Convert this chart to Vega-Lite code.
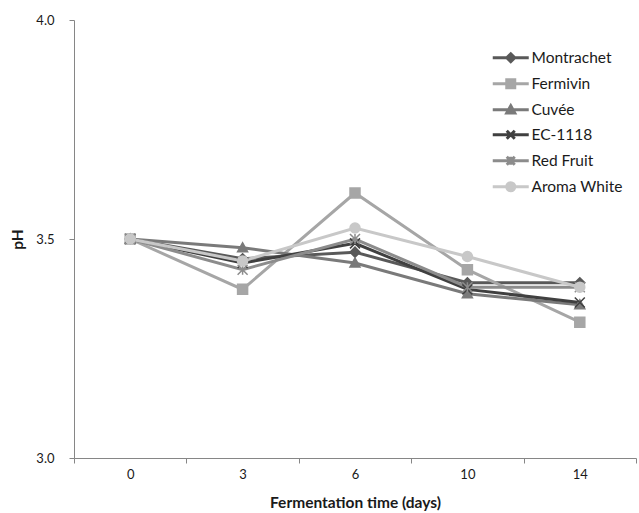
{
  "$schema": "https://vega.github.io/schema/vega-lite/v6.json",
  "width": 562,
  "height": 438,
  "autosize": {"type": "none"},
  "padding": {"left": 74, "top": 20, "right": 3, "bottom": 55},
  "background": "white",
  "config": {
    "view": {"stroke": null},
    "font": "Lato",
    "axis": {"grid": false, "domainColor": "#868686", "tickColor": "#868686", "labelColor": "#1a1a1a", "titleColor": "#1a1a1a", "labelFont": "Lato", "titleFont": "Lato", "labelFontSize": 13, "titleFontSize": 15.5, "titleFontWeight": "bold", "tickSize": 5, "domainWidth": 1}
  },
  "data": {
    "values": [
      {"series": "Montrachet", "day": 0, "pH": 3.50},
      {"series": "Montrachet", "day": 3, "pH": 3.455},
      {"series": "Montrachet", "day": 6, "pH": 3.47},
      {"series": "Montrachet", "day": 10, "pH": 3.40},
      {"series": "Montrachet", "day": 14, "pH": 3.40},
      {"series": "Fermivin", "day": 0, "pH": 3.50},
      {"series": "Fermivin", "day": 3, "pH": 3.385},
      {"series": "Fermivin", "day": 6, "pH": 3.605},
      {"series": "Fermivin", "day": 10, "pH": 3.43},
      {"series": "Fermivin", "day": 14, "pH": 3.31},
      {"series": "Cuvée", "day": 0, "pH": 3.50},
      {"series": "Cuvée", "day": 3, "pH": 3.48},
      {"series": "Cuvée", "day": 6, "pH": 3.445},
      {"series": "Cuvée", "day": 10, "pH": 3.375},
      {"series": "Cuvée", "day": 14, "pH": 3.35},
      {"series": "EC-1118", "day": 0, "pH": 3.50},
      {"series": "EC-1118", "day": 3, "pH": 3.445},
      {"series": "EC-1118", "day": 6, "pH": 3.49},
      {"series": "EC-1118", "day": 10, "pH": 3.385},
      {"series": "EC-1118", "day": 14, "pH": 3.355},
      {"series": "Red Fruit", "day": 0, "pH": 3.50},
      {"series": "Red Fruit", "day": 3, "pH": 3.43},
      {"series": "Red Fruit", "day": 6, "pH": 3.50},
      {"series": "Red Fruit", "day": 10, "pH": 3.39},
      {"series": "Red Fruit", "day": 14, "pH": 3.39},
      {"series": "Aroma White", "day": 0, "pH": 3.50},
      {"series": "Aroma White", "day": 3, "pH": 3.45},
      {"series": "Aroma White", "day": 6, "pH": 3.525},
      {"series": "Aroma White", "day": 10, "pH": 3.46},
      {"series": "Aroma White", "day": 14, "pH": 3.39}
    ]
  },
  "encoding": {
    "x": {
      "field": "day", "type": "ordinal", "bandPosition": 0.5,
      "scale": {"type": "band", "paddingInner": 0, "paddingOuter": 0},
      "axis": {"title": "Fermentation time (days)", "labelAngle": 0, "tickBand": "extent", "labelPadding": 5, "titlePadding": 14}
    },
    "y": {
      "field": "pH", "type": "quantitative",
      "scale": {"domain": [3, 4], "nice": false, "zero": false},
      "axis": {"title": "pH", "values": [3, 3.5, 4], "format": ".1f", "labelPadding": 15, "titlePadding": 10}
    }
  },
  "layer": [
    {
      "mark": {"type": "line", "strokeWidth": 3},
      "encoding": {
        "color": {"field": "series", "type": "nominal", "legend": null,
          "scale": {"domain": ["Montrachet", "Fermivin", "Cuvée", "EC-1118", "Red Fruit", "Aroma White"], "range": ["#595959", "#a6a6a6", "#7a7a7a", "#404040", "#8c8c8c", "#c8c8c8"]}}
      }
    },
    {
      "mark": {"type": "point", "filled": true, "size": 100, "strokeWidth": 1.5, "opacity": 1},
      "encoding": {
        "color": {"field": "series", "type": "nominal", "legend": null},
        "shape": {"field": "series", "type": "nominal", "legend": null,
          "scale": {"domain": ["Montrachet", "Fermivin", "Cuvée", "EC-1118", "Red Fruit", "Aroma White"],
            "range": ["M0,-1L1,0L0,1L-1,0Z", "M-1,-1H1V1H-1Z", "M0,-1L1,0.8H-1Z", "M-1,-1L1,1M-1,1L1,-1", "M-1,-1L1,1M-1,1L1,-1M0,-1V1", "M1,0A1,1,0,1,1,-1,0A1,1,0,1,1,1,0Z"]}},
        "stroke": {"field": "series", "type": "nominal", "legend": null,
          "scale": {"domain": ["Montrachet", "Fermivin", "Cuvée", "EC-1118", "Red Fruit", "Aroma White"], "range": ["#595959", "#a6a6a6", "#7a7a7a", "#404040", "#8c8c8c", "#c8c8c8"]}}
      }
    },
    {
      "mark": {"type": "point", "filled": true, "size": 0, "strokeWidth": 3, "opacity": 1},
      "encoding": {
        "shape": {"field": "series", "type": "nominal",
          "scale": {"domain": ["Montrachet", "Fermivin", "Cuvée", "EC-1118", "Red Fruit", "Aroma White"],
            "range": ["M-4.5,0H4.5M0,-1L1,0L0,1L-1,0Z", "M-4.5,0H4.5M-1,-1H1V1H-1Z", "M-4.5,0H4.5M0,-1L1,0.8H-1Z", "M-4.5,0H4.5M-1,-1L1,1M-1,1L1,-1", "M-4.5,0H4.5M-1,-1L1,1M-1,1L1,-1M0,-1V1", "M-4.5,0H4.5M1,0A1,1,0,1,1,-1,0A1,1,0,1,1,1,0Z"]},
          "legend": {
            "title": null, "orient": "none", "legendX": 429, "legendY": 30, "padding": 0,
            "symbolSize": 64, "symbolStrokeWidth": 3, "labelOffset": 13, "rowPadding": 5,
            "labelFont": "Lato", "labelFontSize": 15.5, "labelColor": "#1a1a1a"
          }
        },
        "fill": {"field": "series", "type": "nominal",
          "scale": {"domain": ["Montrachet", "Fermivin", "Cuvée", "EC-1118", "Red Fruit", "Aroma White"], "range": ["#595959", "#a6a6a6", "#7a7a7a", "#404040", "#8c8c8c", "#c8c8c8"]},
          "legend": {"title": null, "orient": "none", "legendX": 429, "legendY": 30, "padding": 0, "symbolSize": 64, "symbolStrokeWidth": 3, "labelOffset": 13, "rowPadding": 5, "labelFont": "Lato", "labelFontSize": 15.5, "labelColor": "#1a1a1a"}
        },
        "stroke": {"field": "series", "type": "nominal",
          "legend": {"title": null, "orient": "none", "legendX": 429, "legendY": 30, "padding": 0, "symbolSize": 64, "symbolStrokeWidth": 3, "labelOffset": 13, "rowPadding": 5, "labelFont": "Lato", "labelFontSize": 15.5, "labelColor": "#1a1a1a"}
        }
      }
    }
  ],
  "resolve": {
    "scale": {"shape": "independent"},
    "legend": {"shape": "independent", "color": "independent", "stroke": "independent", "fill": "independent"}
  }
}
